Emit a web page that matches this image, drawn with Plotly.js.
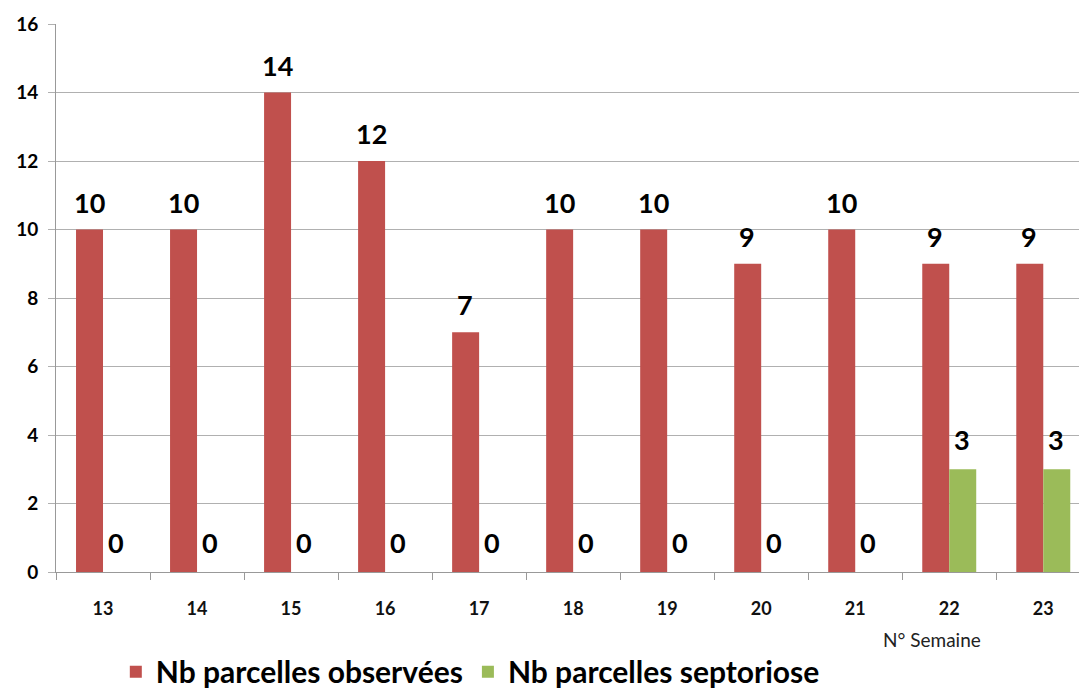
<!DOCTYPE html>
<html>
<head>
<meta charset="utf-8">
<script src="https://cdn.plot.ly/plotly-3.0.1.min.js"></script>
<style>html,body{margin:0;padding:0;background:#fff;}#chart{width:1079px;height:688px;}</style>
</head>
<body>
<div id="chart"></div>
<script>
const weeks = ["13","14","15","16","17","18","19","20","21","22","23"];
const observed = [10,10,14,12,7,10,10,9,10,9,9];
const septoriose = [0,0,0,0,0,0,0,0,0,3,3];
const seriesNames = ["Nb parcelles observées","Nb parcelles septoriose"];
const yTicks = [0,2,4,6,8,10,12,14,16];

const labelFont = {family:"Lato, 'Open Sans', sans-serif", size:27, color:"#000", weight:700};
const annotations = [];
weeks.forEach((w,i)=>{
  annotations.push({x:i, y:observed[i], text:"<b>"+observed[i]+"</b>", showarrow:false, xref:"x", yref:"y", yanchor:"bottom", xshift:-14, yshift:9, font:labelFont});
  annotations.push({x:i, y:septoriose[i], text:"<b>"+septoriose[i]+"</b>", showarrow:false, xref:"x", yref:"y", yanchor:"bottom", xshift:13, yshift:11, font:labelFont});
});
annotations.push({xref:"paper", yref:"paper", x:0.856, y:-0.124, xanchor:"center", yanchor:"middle", text:"N° Semaine", showarrow:false, font:{family:"Lato, 'Open Sans', sans-serif", size:19, color:"#222"}});

const data = [
  {type:"bar", name:seriesNames[0], x:weeks, y:observed, marker:{color:"#C0504D"}, hoverinfo:"skip"},
  {type:"bar", name:seriesNames[1], x:weeks, y:septoriose, marker:{color:"#9BBB59"}, hoverinfo:"skip"}
];

const layout = {
  width:1079, height:688,
  margin:{l:56, r:0, t:24, b:116, autoexpand:false},
  paper_bgcolor:"#fff", plot_bgcolor:"#fff",
  barmode:"group", bargap:0.426, bargroupgap:0,
  showlegend:true,
  legend:{orientation:"h", x:0.405, xanchor:"center", y:-0.182, yanchor:"middle",
    font:{family:"Lato, 'Open Sans', sans-serif", size:30, color:"#000", weight:700}, itemwidth:30, traceorder:"normal"},
  xaxis:{type:"category", range:[-0.5,10.38], showline:true, linecolor:"#999", linewidth:1,
    ticks:"outside", tickson:"boundaries", ticklen:7, tickcolor:"#999", showgrid:false, zeroline:false,
    ticklabelstandoff:20,
    tickfont:{family:"Lato, 'Open Sans', sans-serif", size:18, color:"#111", weight:700}},
  yaxis:{range:[0,16], tickvals:yTicks, ticktext:yTicks.map(String), showline:true, linecolor:"#999", linewidth:1,
    ticks:"outside", ticklen:7, tickcolor:"#b0b0b0", showgrid:true, gridcolor:"#b0b0b0", gridwidth:1, zeroline:false,
    ticklabelstandoff:6,
    tickfont:{family:"Lato, 'Open Sans', sans-serif", size:19, color:"#000", weight:700}},
  annotations:annotations
};
Plotly.newPlot("chart", data, layout, {displayModeBar:false, staticPlot:true});
</script>
</body>
</html>
